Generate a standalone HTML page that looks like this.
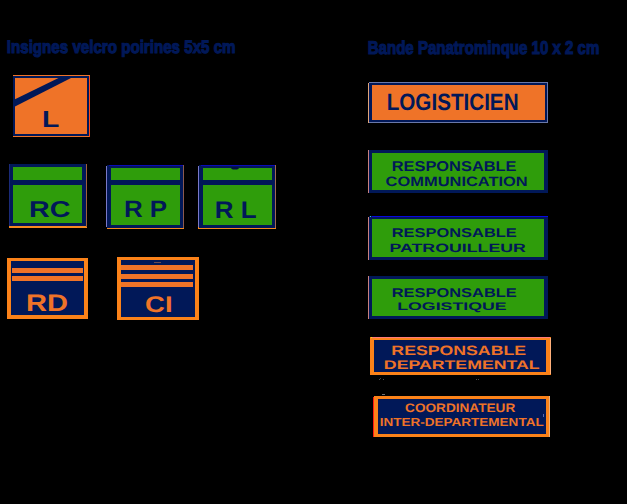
<!DOCTYPE html>
<html><head><meta charset="utf-8">
<style>
html,body{margin:0;padding:0;}
body{width:627px;height:504px;background:#000;position:relative;overflow:hidden;font-family:"Liberation Sans",sans-serif;font-weight:bold;}
.a{position:absolute;box-sizing:border-box;}
.t{position:absolute;white-space:nowrap;line-height:1;transform-origin:0 0;text-rendering:geometricPrecision;}
#w{position:absolute;left:0;top:0;width:627px;height:504px;}
</style></head><body><div id="w">
<div class="a" style="left:13px;top:75px;width:77px;height:62px;background:#ef7328;"></div>
<div class="a" style="left:13px;top:76px;width:76px;height:60px;background:#ef7328;border:2px solid #011858;"></div>
<div class="a" style="left:89px;top:76px;width:1px;height:61px;background:#ff4a10;"></div>
<svg class="a" style="left:0;top:0;" width="627" height="504"><polygon points="15,99.2 15,106.5 71.5,77.8 59,77.8" fill="#011858"/></svg>
<div class="a" style="left:9px;top:164px;width:78px;height:64px;background:#f58a20;"></div>
<div class="a" style="left:86px;top:164px;width:1px;height:63px;background:#a0603a;"></div>
<div class="a" style="left:9px;top:164px;width:77px;height:62px;background:#2f9d0b;border:solid #011858;border-width:3px 4px 3px 4px;"></div>
<div class="a" style="left:9px;top:180px;width:77px;height:5px;background:#011858;"></div>
<div class="a" style="left:9px;top:164px;width:1px;height:62px;background:#1a2a78;"></div>
<div class="a" style="left:107px;top:166px;width:77px;height:63px;background:#f58a20;"></div>
<div class="a" style="left:183px;top:165px;width:1px;height:63px;background:#8a5a50;"></div>
<div class="a" style="left:107px;top:165px;width:76px;height:63px;background:#2f9d0b;border:solid #011858;border-width:3px 3px 3px 4px;"></div>
<div class="a" style="left:109px;top:165px;width:74px;height:1px;background:#0a0ab8;"></div>
<div class="a" style="left:106px;top:166px;width:1px;height:61px;background:#7a78c8;"></div>
<div class="a" style="left:107px;top:180px;width:76px;height:5px;background:#011858;"></div>
<div class="a" style="left:198px;top:166px;width:78px;height:63px;background:#f58a20;"></div>
<div class="a" style="left:275px;top:165px;width:1px;height:63px;background:#a06a50;"></div>
<div class="a" style="left:199px;top:165px;width:76px;height:63px;background:#2f9d0b;border:solid #011858;border-width:3px 3px 3px 4px;"></div>
<div class="a" style="left:201px;top:165px;width:74px;height:1px;background:#0a0ab8;"></div>
<div class="a" style="left:198px;top:166px;width:1px;height:61px;background:#7a78c8;"></div>
<div class="a" style="left:199px;top:180px;width:76px;height:5px;background:#011858;"></div>
<svg class="a" style="left:0;top:0;" width="627" height="504"><ellipse cx="235" cy="168.3" rx="3.8" ry="1.2" fill="#021040"/></svg>
<div class="a" style="left:7px;top:258px;width:81px;height:61px;background:#011858;border:solid #fb8219;border-width:3px 4px 4px 4px;"></div>
<div class="a" style="left:12px;top:268px;width:71px;height:5px;background:#ef7328;"></div>
<div class="a" style="left:12px;top:276px;width:71px;height:5px;background:#ef7328;"></div>
<div class="a" style="left:117px;top:257px;width:82px;height:63px;background:#011858;border:solid #fb8219;border-width:3px 4px 3px 4px;"></div>
<div class="a" style="left:154px;top:262px;width:7px;height:1px;background:#6a4a50;"></div>
<div class="a" style="left:121px;top:265px;width:72px;height:5px;background:#ef7328;"></div>
<div class="a" style="left:121px;top:274px;width:72px;height:5px;background:#ef7328;"></div>
<div class="a" style="left:121px;top:282px;width:72px;height:5px;background:#ef7328;"></div>
<div class="a" style="left:369px;top:82px;width:179px;height:41px;background:#ef7328;border:solid #011858;border-width:3px 3px 3px 3px;"></div>
<div class="a" style="left:369px;top:82px;width:179px;height:1px;background:#6a78a8;"></div>
<div class="a" style="left:369px;top:122px;width:179px;height:1px;background:#6a78a8;"></div>
<div class="a" style="left:547px;top:82px;width:1px;height:41px;background:#6a78a8;"></div>
<div class="a" style="left:368px;top:83px;width:1px;height:40px;background:#e0a47a;"></div>
<div class="a" style="left:369px;top:150px;width:179px;height:43px;background:#2f9d0b;border:solid #011858;border-width:3px 4px 3px 3px;"></div>
<div class="a" style="left:368px;top:150px;width:1px;height:43px;background:#c88080;"></div>
<div class="a" style="left:369px;top:216px;width:179px;height:44px;background:#2f9d0b;border:solid #011858;border-width:3px 4px 3px 3px;"></div>
<div class="a" style="left:372px;top:216px;width:176px;height:1px;background:#0808e0;"></div>
<div class="a" style="left:370px;top:216px;width:1px;height:1px;background:#20d0e0;"></div>
<div class="a" style="left:368px;top:217px;width:1px;height:43px;background:#c88080;"></div>
<div class="a" style="left:369px;top:276px;width:179px;height:43px;background:#2f9d0b;border:solid #011858;border-width:3px 4px 3px 3px;"></div>
<div class="a" style="left:368px;top:276px;width:1px;height:43px;background:#c88080;"></div>
<div class="a" style="left:370px;top:337px;width:181px;height:38px;background:#011858;border:solid #fb8219;border-width:3px 5px 3px 4px;"></div>
<div class="a" style="left:372px;top:337px;width:178px;height:1px;background:#ff7a7a;"></div>
<div class="a" style="left:550px;top:338px;width:1px;height:36px;background:#ffb07a;"></div>
<div class="a" style="left:371px;top:337px;width:1px;height:1px;background:#e8e820;"></div>
<div class="a" style="left:374px;top:396px;width:176px;height:41px;background:#011858;border:solid #fb8219;border-width:3px 4px 3px 4px;"></div>
<div class="a" style="left:373px;top:397px;width:1px;height:40px;background:#ff1a10;"></div>
<div class="a" style="left:549px;top:396px;width:1px;height:41px;background:#e8b080;"></div>
<div class="a" style="left:382px;top:394px;width:3px;height:1px;background:#707070;"></div>
<div class="a" style="left:379px;top:379px;width:1px;height:1px;background:#505050;"></div>
<div class="a" style="left:380px;top:378px;width:1px;height:1px;background:#404040;"></div>
<div class="a" style="left:383px;top:379px;width:1px;height:1px;background:#505050;"></div>
<div class="a" style="left:476px;top:379px;width:1px;height:1px;background:#4a4a4a;"></div>
<div class="a" style="left:478px;top:379px;width:1px;height:1px;background:#4a4a4a;"></div>
<div class="a" style="left:543px;top:414px;width:1px;height:3px;background:#5a6ab0;"></div>
<div class="t" style="left:6px;top:38px;font-size:18.12px;color:#011858;transform:translateX(0.81px) scaleX(0.8355);-webkit-text-stroke:1.2px #011858;">Insignes velcro poirines 5x5 cm</div>
<div class="t" style="left:367px;top:39px;font-size:18.55px;color:#011858;transform:translateX(0.71px) scaleX(0.8120);-webkit-text-stroke:1.2px #011858;">Bande Panatrominque 10 x 2 cm</div>
<div class="t" style="left:42px;top:108px;font-size:23.33px;color:#011858;transform:translateX(0.03px) scaleX(1.2145);">L</div>
<div class="t" style="left:29px;top:198px;font-size:23.04px;color:#011858;transform:translateX(0.10px) scaleX(1.2454);">RC</div>
<div class="t" style="left:123px;top:198px;font-size:23.77px;color:#011858;transform:translateX(0.94px) scaleX(1.0909);">R P</div>
<div class="t" style="left:214px;top:199px;font-size:23.91px;color:#011858;transform:translateX(0.68px) scaleX(1.0858);">R L</div>
<div class="t" style="left:25px;top:292px;font-size:23.91px;color:#ef7328;transform:translateX(0.95px) scaleX(1.2158);">RD</div>
<div class="t" style="left:145px;top:294px;font-size:22.61px;color:#ef7328;transform:translateX(0.12px) scaleX(1.2149);">CI</div>
<div class="t" style="left:386px;top:92px;font-size:23.62px;color:#011858;transform:translateX(0.72px) scaleX(0.8738);">LOGISTICIEN</div>
<div class="t" style="left:391px;top:160px;font-size:14.20px;color:#011858;transform:translateX(0.73px) scaleX(1.1555);">RESPONSABLE</div>
<div class="t" style="left:385px;top:175px;font-size:13.62px;color:#011858;transform:translateX(0.61px) scaleX(1.2076);">COMMUNICATION</div>
<div class="t" style="left:391px;top:227px;font-size:12.75px;color:#011858;transform:translateX(0.71px) scaleX(1.2884);">RESPONSABLE</div>
<div class="t" style="left:389px;top:242px;font-size:12.03px;color:#011858;transform:translateX(0.53px) scaleX(1.4764);">PATROUILLEUR</div>
<div class="t" style="left:391px;top:287px;font-size:12.75px;color:#011858;transform:translateX(0.71px) scaleX(1.2884);">RESPONSABLE</div>
<div class="t" style="left:397px;top:302px;font-size:11.01px;color:#011858;transform:translateX(0.21px) scaleX(1.6130);">LOGISTIQUE</div>
<div class="t" style="left:391px;top:344px;font-size:13.48px;color:#ef7328;transform:translateX(0.36px) scaleX(1.3133);">RESPONSABLE</div>
<div class="t" style="left:383px;top:359px;font-size:12.46px;color:#ef7328;transform:translateX(0.87px) scaleX(1.4222);">DEPARTEMENTAL</div>
<div class="t" style="left:405px;top:402px;font-size:12.32px;color:#ef7328;transform:translateX(0.10px) scaleX(1.1052);">COORDINATEUR</div>
<div class="t" style="left:379px;top:418px;font-size:11.59px;color:#ef7328;transform:translateX(0.66px) scaleX(1.1679);">INTER-DEPARTEMENTAL</div>
</div></body></html>
